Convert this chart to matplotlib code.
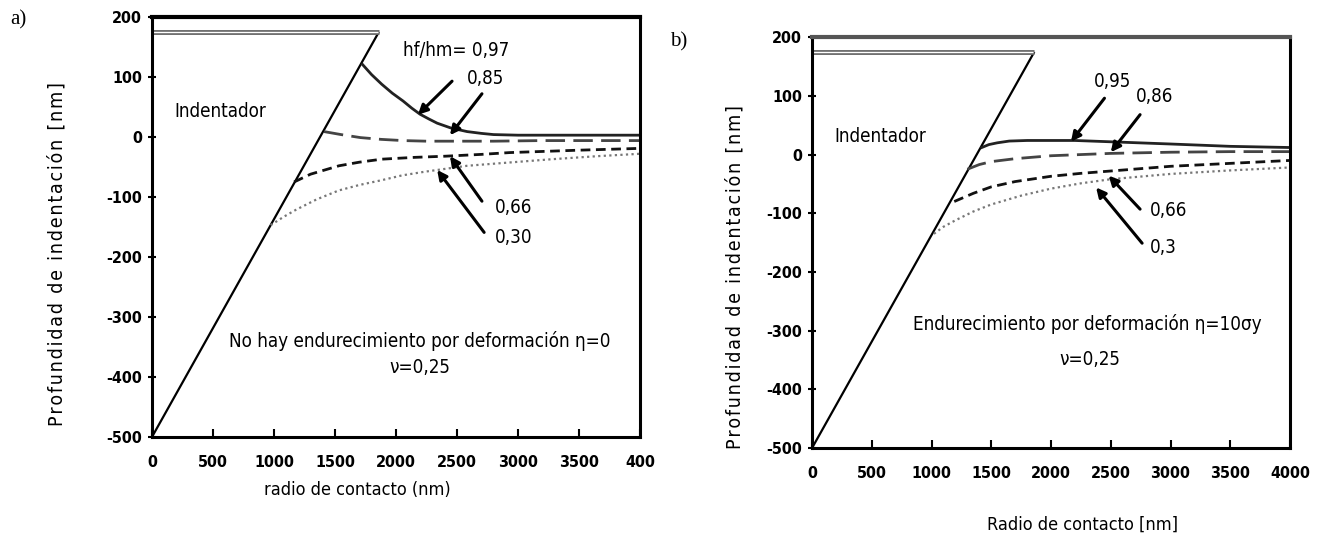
import matplotlib
matplotlib.use("Agg")
import matplotlib.pyplot as plt

# indenter outline (nm)
ind_x = [0, 1860]
ind_y = [-500, 175]
ind_top = 175

# panel a: no strain hardening
a_labels = ["0,97", "0,85", "0,66", "0,30"]
a_x = [
    [1725, 1800, 1883, 1970, 2058, 2130, 2197, 2270, 2338, 2450, 2583, 2700, 2800, 3000, 3500, 4000],
    [1410, 1550, 1708, 1880, 2058, 2250, 2408, 2800, 3200, 3600, 4000],
    [1165, 1300, 1533, 1700, 1883, 2150, 2408, 2700, 2933, 3500, 4000],
    [973, 1080, 1183, 1350, 1533, 1700, 1883, 2050, 2233, 2583, 2900, 3283, 3650, 4000],
]
a_y = [
    [121, 104, 88, 73, 60, 48, 38, 30, 23, 15, 9, 6, 4, 3, 3, 3],
    [9, 4, -1, -4, -6, -7, -7, -7, -6, -6, -6],
    [-75, -62, -48, -42, -37, -34, -32, -29, -26, -22, -19],
    [-147, -133, -121, -104, -89, -80, -72, -64, -58, -48, -43, -37, -32, -28],
]
# panel b: strain hardening
b_labels = ["0,95", "0,86", "0,66", "0,3"]
b_x = [
    [1420, 1480, 1550, 1650, 1800, 2000, 2200, 2600, 3000, 3500, 4000],
    [1300, 1400, 1500, 1700, 2000, 2250, 2500, 3000, 3500, 4000],
    [1190, 1350, 1500, 1700, 2000, 2250, 2500, 3000, 3500, 4000],
    [1020, 1100, 1200, 1350, 1500, 1750, 2000, 2250, 2500, 3000, 3500, 4000],
]
b_y = [
    [12, 17, 20, 23, 24, 24, 24, 21, 18, 14, 12],
    [-25, -17, -12, -7, -2, 0, 2, 4, 5, 5],
    [-80, -66, -55, -46, -37, -32, -28, -20, -15, -10],
    [-135, -123, -112, -97, -85, -70, -58, -49, -42, -33, -27, -22],
]

xticks = [0, 500, 1000, 1500, 2000, 2500, 3000, 3500, 4000]
a_xticklabels = ["0", "500", "1000", "1500", "2000", "2500", "3000", "3500", "400"]
b_xticklabels = ["0", "500", "1000", "1500", "2000", "2500", "3000", "3500", "4000"]
yticks = [200, 100, 0, -100, -200, -300, -400, -500]
ylabel = "Profundidad de indentación [nm]"

FONT = ["DejaVu Sans"]
COND = dict(family=FONT, stretch="condensed")

styles = [
    dict(color="#222222", lw=2.0, ls="-"),
    dict(color="#444444", lw=2.0, ls=(0, (7, 3))),
    dict(color="#111111", lw=2.0, ls=(0, (3.5, 2))),
    dict(color="#777777", lw=1.6, ls=(0, (1, 1.5))),
]

fig = plt.figure(figsize=(13.26, 5.42), dpi=100)
ax_a = fig.add_axes([0.1146, 0.1937, 0.368, 0.775])
ax_b = fig.add_axes([0.6124, 0.1734, 0.3605, 0.758])


def base(ax, xlabels, xlabel, top_black, xl_pos, yl_pos):
    ax.set_xlim(0, 4000)
    ax.set_ylim(-500, 200)
    ax.set_xticks(xticks)
    ax.set_xticklabels(xlabels, fontweight="bold", fontsize=11.5, **COND)
    ax.set_yticks(yticks)
    ax.set_yticklabels([str(v) for v in yticks], fontweight="bold", fontsize=11.5, **COND)
    ax.tick_params(axis="x", direction="in", length=6, width=1.5, pad=13)
    ax.tick_params(axis="y", direction="inout", length=6, width=1.5, pad=4)
    for s in ax.spines.values():
        s.set_linewidth(2.2)
    if top_black:
        ax.spines["top"].set_linewidth(3)
    else:
        ax.spines["top"].set_color("#555555")
        ax.spines["top"].set_linewidth(3)
    # the original label is letter-spaced
    ax.set_ylabel("\u200a".join(ylabel), fontsize=14, va="center", **COND)
    ax.yaxis.set_label_coords(*yl_pos)
    ax.set_xlabel(xlabel, fontsize=13, va="center", **COND)
    ax.xaxis.set_label_coords(*xl_pos)
    # indenter
    ax.plot(ind_x, ind_y, color="black", lw=1.6, solid_capstyle="butt")
    ax.plot([0, ind_x[1]], [ind_top, ind_top], color="#666666", lw=3.5, solid_capstyle="butt")
    ax.plot([0, ind_x[1] - 10], [ind_top, ind_top], color="white", lw=1.0, solid_capstyle="butt")


def arrow(ax, tail, head):
    ax.annotate("", xy=head, xytext=tail,
                arrowprops=dict(arrowstyle="-|>", color="black", lw=2.2, mutation_scale=14,
                                shrinkA=0, shrinkB=0))


def note(ax, x, y, s, **kw):
    ax.text(x, y, s, fontsize=13.5, va="center", **COND, **kw)


# panel a
base(ax_a, a_xticklabels, "radio de contacto (nm)", True, (0.42, -0.126), (-0.195, 0.436))
for xs, ys, st in zip(a_x, a_y, styles):
    ax_a.plot(xs, ys, **st)
note(ax_a, 185, 43, "Indentador")
note(ax_a, 2058, 144, "hf/hm= " + a_labels[0])
note(ax_a, 2583, 98, a_labels[1])
note(ax_a, 2810, -117, a_labels[2])
note(ax_a, 2810, -167, a_labels[3])
arrow(ax_a, (2460, 93), (2180, 37))
arrow(ax_a, (2705, 72), (2443, 3))
arrow(ax_a, (2705, -107), (2443, -32))
arrow(ax_a, (2723, -159), (2338, -55))
note(ax_a, 2198, -340, "No hay endurecimiento por deformación η=0", ha="center")
note(ax_a, 2198, -384, "ν=0,25", ha="center")

# panel b
base(ax_b, b_xticklabels, "Radio de contacto [nm]", False, (0.565, -0.187), (-0.161, 0.416))
for xs, ys, st in zip(b_x, b_y, styles):
    ax_b.plot(xs, ys, **st)
note(ax_b, 186, 30, "Indentador")
note(ax_b, 2359, 125, b_labels[0])
note(ax_b, 2710, 99, b_labels[1])
note(ax_b, 2826, -96, b_labels[2])
note(ax_b, 2826, -159, b_labels[3])
arrow(ax_b, (2447, 96), (2167, 22))
arrow(ax_b, (2745, 68), (2500, 4))
arrow(ax_b, (2745, -93), (2482, -36))
arrow(ax_b, (2762, -151), (2377, -56))
note(ax_b, 2307, -289, "Endurecimiento por deformación η=10σy", ha="center")
note(ax_b, 2324, -349, "ν=0,25", ha="center")

fig.text(0.008, 0.955, "a)", family=["Liberation Serif", "DejaVu Serif"], fontsize=15)
fig.text(0.505, 0.915, "b)", family=["Liberation Serif", "DejaVu Serif"], fontsize=15)

fig.savefig("out.png", dpi=100)
